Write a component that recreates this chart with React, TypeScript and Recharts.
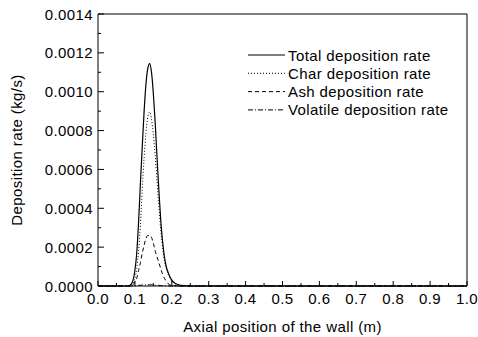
import React from 'react';
import { LineChart, Line, XAxis, YAxis, ReferenceLine, Label } from 'recharts';

// axial position (m)
const positions = [0, 0.05, 0.08, 0.09, 0.1, 0.105, 0.11, 0.115, 0.12, 0.125, 0.13, 0.135, 0.14, 0.145, 0.15, 0.155, 0.16, 0.165, 0.17, 0.175, 0.18, 0.185, 0.19, 0.2, 0.21, 0.22, 0.25, 0.3, 0.5, 1.0];

// deposition rates (kg/s)
const totalRate = [0, 0, 0, 0.00001, 0.00008, 0.00017, 0.00033, 0.00053, 0.00072, 0.0009, 0.00104, 0.00112, 0.001145, 0.0011, 0.00099, 0.00084, 0.00066, 0.00049, 0.00034, 0.00023, 0.00015, 0.0001, 0.00007, 0.00003, 0.000013, 0.000005, 0, 0, 0, 0];
const charRate = [0, 0, 0, 0.000005, 0.00004, 0.00009, 0.00018, 0.00031, 0.0005, 0.00066, 0.00079, 0.00087, 0.000895, 0.00086, 0.00078, 0.00067, 0.00054, 0.00041, 0.00029, 0.0002, 0.00013, 0.00009, 0.00006, 0.000025, 0.00001, 0.000004, 0, 0, 0, 0];
const ashRate = [0, 0, 0, 0.000002, 0.00002, 0.00004, 0.00008, 0.00012, 0.00017, 0.00021, 0.000245, 0.00026, 0.00026, 0.00025, 0.00022, 0.00018, 0.00015, 0.00012, 0.00009, 0.00006, 0.00004, 0.000025, 0.000012, 0.000004, 0.000001, 0, 0, 0, 0, 0];
const volatileRate = [0, 0, 0, 0, 0.000001, 0.000002, 0.000003, 0.000004, 0.000005, 0.000006, 0.000006, 0.000006, 0.000006, 0.000006, 0.000005, 0.000004, 0.000004, 0.000003, 0.000002, 0.000002, 0.000001, 0.000001, 0, 0, 0, 0, 0, 0, 0, 0];

const xTicks = [0, 0.05, 0.1, 0.15, 0.2, 0.25, 0.3, 0.35, 0.4, 0.45, 0.5, 0.55, 0.6, 0.65, 0.7, 0.75, 0.8, 0.85, 0.9, 0.95, 1.0];
const yTicks = [0, 0.0001, 0.0002, 0.0003, 0.0004, 0.0005, 0.0006, 0.0007, 0.0008, 0.0009, 0.001, 0.0011, 0.0012, 0.0013, 0.0014];

const series = [
  { key: 'total', name: 'Total deposition rate', dash: undefined, width: 1.2 },
  { key: 'char', name: 'Char deposition rate', dash: '1 2', width: 1 },
  { key: 'ash', name: 'Ash deposition rate', dash: '4 3', width: 1 },
  { key: 'volatile', name: 'Volatile deposition rate', dash: '5 2 1 2', width: 1 },
];

const rows = positions.map((x, i) => ({
  x,
  total: totalRate[i],
  char: charRate[i],
  ash: ashRate[i],
  volatile: volatileRate[i],
}));

const FONT = '"Liberation Sans", Arial, sans-serif';
const textStyle = { fontSize: 15, fontFamily: FONT, letterSpacing: 0.4 };

const XTick = (props: any) => {
  const { x, y, payload } = props;
  const major = Math.round(payload.value * 100) % 10 === 0;
  return (
    <g>
      <line x1={x} x2={x} y1={y} y2={y - (major ? 5 : 3)} stroke="#000" />
      {major && (
        <text x={x} y={y + 18} textAnchor="middle" style={textStyle} fill="#000">
          {payload.value.toFixed(1)}
        </text>
      )}
    </g>
  );
};

const YTick = (props: any) => {
  const { x, y, payload } = props;
  const major = Math.round(payload.value * 10000) % 2 === 0;
  return (
    <g>
      <line x1={x} x2={x + (major ? 6 : 3)} y1={y} y2={y} stroke="#000" />
      {major && (
        <text x={x - 5} y={y} textAnchor="end" dominantBaseline="central" style={textStyle} fill="#000">
          {payload.value.toFixed(4)}
        </text>
      )}
    </g>
  );
};

const YTitle = (props: any) => {
  const { viewBox } = props;
  const cx = viewBox.x + 16;
  const cy = viewBox.y + viewBox.height / 2;
  return (
    <text x={cx} y={cy} transform={`rotate(-90, ${cx}, ${cy})`} textAnchor="middle" dominantBaseline="central" style={textStyle} fill="#000">
      Deposition rate (kg/s)
    </text>
  );
};

const XTitle = (props: any) => {
  const { viewBox } = props;
  const cx = viewBox.x + viewBox.width / 2;
  return (
    <text x={cx} y={332} textAnchor="middle" style={textStyle} fill="#000">
      Axial position of the wall (m)
    </text>
  );
};

const ChartLegend = () => (
  <svg width={225} height={80} style={{ position: 'absolute', left: 245, top: 45 }}>
    {series.map((s, i) => {
      const cy = 10 + i * 18.3;
      return (
        <g key={s.key}>
          <line x1={3} x2={40} y1={cy} y2={cy} stroke="#000" strokeWidth={1} strokeDasharray={s.dash} />
          <text x={43} y={cy} dominantBaseline="central" style={textStyle} fill="#000">
            {s.name}
          </text>
        </g>
      );
    })}
  </svg>
);

export default function App() {
  return (
    <div style={{ position: 'absolute', left: 0, top: 0, width: 478, height: 337, background: '#fff' }}>
      <LineChart width={478} height={337} data={rows} margin={{ top: 14, right: 11, left: 0, bottom: 5 }}>
        <XAxis
          dataKey="x"
          type="number"
          domain={[0, 1]}
          ticks={xTicks}
          interval={0}
          tick={<XTick />}
          tickSize={0}
          tickMargin={0}
          tickLine={false}
          height={46}
          axisLine={{ stroke: '#000' }}
        >
          <Label content={<XTitle />} />
        </XAxis>
        <YAxis
          type="number"
          domain={[0, 0.0014]}
          ticks={yTicks}
          interval={0}
          tick={<YTick />}
          tickSize={0}
          tickMargin={0}
          tickLine={false}
          width={98}
          axisLine={{ stroke: '#000' }}
        >
          <Label content={<YTitle />} />
        </YAxis>
        <ReferenceLine y={0.0014} stroke="#000" />
        <ReferenceLine x={1} stroke="#000" />
        {series.map(s => (
          <Line
            key={s.key}
            type="monotone"
            dataKey={s.key}
            name={s.name}
            stroke="#000"
            strokeWidth={s.width}
            strokeDasharray={s.dash}
            dot={false}
            activeDot={false}
            isAnimationActive={false}
          />
        ))}
      </LineChart>
      <ChartLegend />
    </div>
  );
}
